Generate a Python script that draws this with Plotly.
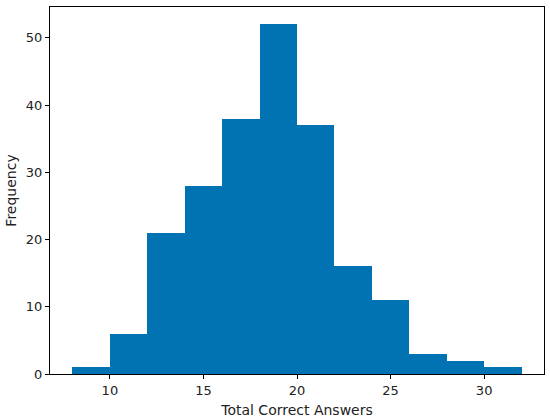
import plotly.graph_objects as go

bin_edges = [8, 10, 12, 14, 16, 18, 20, 22, 24, 26, 28, 30, 32]
counts = [1, 6, 21, 28, 38, 52, 37, 16, 11, 3, 2, 1]

centers = [(a + b) / 2 for a, b in zip(bin_edges[:-1], bin_edges[1:])]
widths = [b - a for a, b in zip(bin_edges[:-1], bin_edges[1:])]

fig = go.Figure(go.Bar(x=centers, y=counts, width=widths,
                       marker=dict(color="#0173B2", line=dict(width=0))))

span = bin_edges[-1] - bin_edges[0]
fig.update_layout(
    width=550, height=420,
    margin=dict(l=50, r=5, t=7, b=43),
    paper_bgcolor="white", plot_bgcolor="white",
    font=dict(family="DejaVu Sans", size=12, color="#222"),
    showlegend=False, bargap=0,
)
fig.update_xaxes(range=[bin_edges[0] - 0.05 * span, bin_edges[-1] + 0.05 * span],
                 tickvals=[10, 15, 20, 25, 30], showgrid=False, zeroline=False,
                 showline=True, mirror=True, linecolor="black", linewidth=1,
                 ticks="outside", ticklen=4, tickcolor="black",
                 tickfont=dict(size=13),
                 title=dict(text="Total Correct Answers", standoff=8))
fig.update_yaxes(range=[0, max(counts) * 1.05],
                 tickvals=[0, 10, 20, 30, 40, 50], showgrid=False, zeroline=False,
                 showline=True, mirror=True, linecolor="black", linewidth=1,
                 ticks="outside", ticklen=4, tickcolor="black",
                 tickfont=dict(size=13),
                 title=dict(text="Frequency", standoff=5))
fig.write_html("out.html", config={"displayModeBar": False},
               post_script="document.body.style.margin='0';")
